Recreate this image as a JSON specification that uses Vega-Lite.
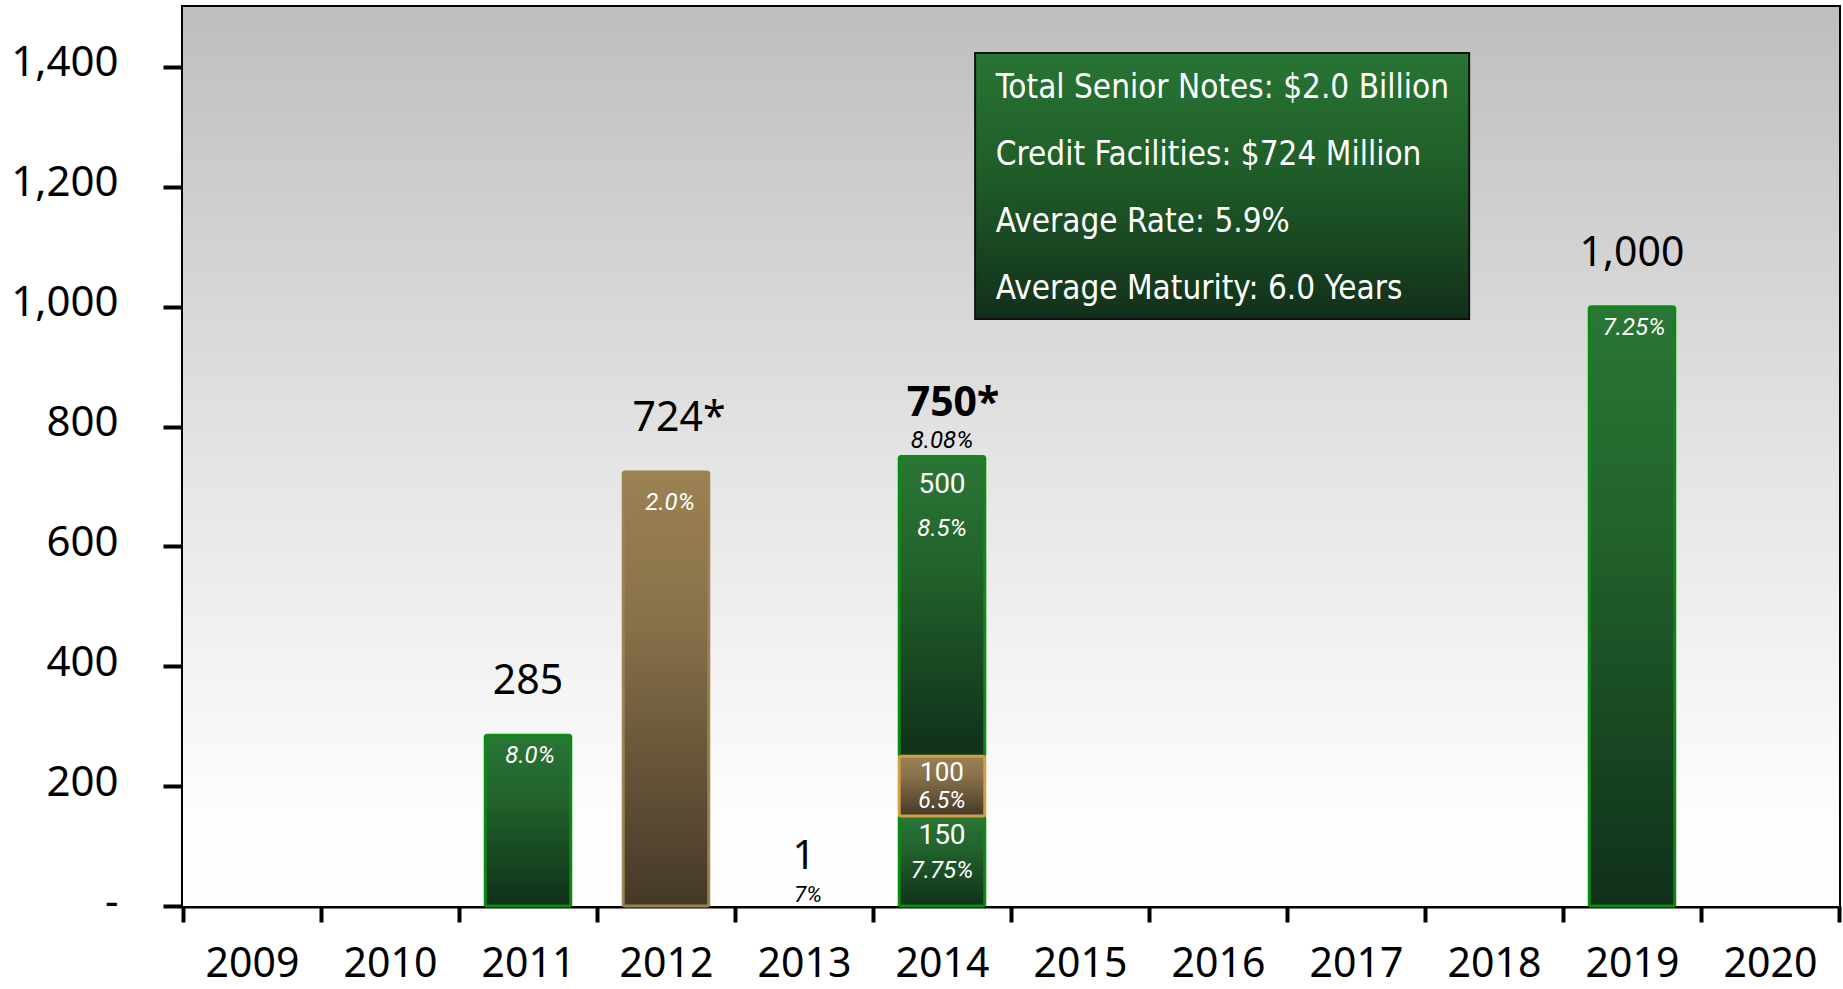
{
  "$schema": "https://vega.github.io/schema/vega-lite/v6.json",
  "width": 1656,
  "height": 899,
  "autosize": {"type": "none"},
  "padding": {"left": 183, "top": 7, "right": 4, "bottom": 83},
  "background": "white",
  "config": {
    "view": {"stroke": "black", "strokeWidth": 4},
    "axis": {
      "domainColor": "black", "domainWidth": 4, "tickColor": "black", "tickWidth": 4,
      "labelColor": "black", "labelFont": "Noto Sans", "grid": false
    }
  },
  "datasets": {
    "segments": [
      {"year": "2011", "tranche": 1, "type": "notes", "amount": 285, "rate": "8.0%"},
      {"year": "2012", "tranche": 1, "type": "credit", "amount": 724, "rate": "2.0%"},
      {"year": "2014", "tranche": 1, "type": "notes", "amount": 150, "rate": "7.75%"},
      {"year": "2014", "tranche": 2, "type": "credit", "amount": 100, "rate": "6.5%"},
      {"year": "2014", "tranche": 3, "type": "notes", "amount": 500, "rate": "8.5%"},
      {"year": "2019", "tranche": 1, "type": "notes", "amount": 1000, "rate": "7.25%"}
    ],
    "totals": [
      {"year": "2011", "total": 285, "label": "285", "avg": null},
      {"year": "2012", "total": 724, "label": "724*", "avg": null},
      {"year": "2013", "total": 1, "label": "1", "avg": "7%"},
      {"year": "2014", "total": 750, "label": "750*", "avg": "8.08%"},
      {"year": "2019", "total": 1000, "label": "1,000", "avg": null}
    ],
    "notes": [
      {"line": 1, "text": "Total Senior Notes: $2.0 Billion"},
      {"line": 2, "text": "Credit Facilities: $724 Million"},
      {"line": 3, "text": "Average Rate: 5.9%"},
      {"line": 4, "text": "Average Maturity: 6.0 Years"}
    ]
  },
  "layer": [
    {
      "layer": [
        {
          "data": {"values": [{}]},
          "mark": {"type": "rect", "fill": {"gradient": "linear", "x1": 0, "y1": 0, "x2": 0, "y2": 1,
            "stops": [{"offset": 0, "color": "#bebebe"}, {"offset": 0.5, "color": "#e4e4e4"}, {"offset": 0.9, "color": "#fdfdfd"}, {"offset": 1, "color": "#ffffff"}]}},
          "encoding": {
            "x": {"datum": 0, "type": "quantitative", "scale": {"domain": [0, 12], "nice": false, "zero": false}, "axis": null},
            "x2": {"datum": 12},
            "y": {"datum": -0.211, "type": "quantitative", "scale": {"domain": [-0.211, 13.207], "reverse": true, "nice": false, "zero": false}, "axis": null},
            "y2": {"datum": 13.207}
          }
        },
        {
          "data": {"values": [{}]},
          "mark": {"type": "rect", "stroke": "#111111", "strokeWidth": 2, "fill": {"gradient": "linear", "x1": 0, "y1": 0, "x2": 0, "y2": 1,
            "stops": [{"offset": 0, "color": "#287534"}, {"offset": 0.45, "color": "#1f5d28"}, {"offset": 1, "color": "#12301a"}]}},
          "encoding": {
            "x": {"datum": 5.74, "type": "quantitative", "scale": {"domain": [0, 12], "nice": false, "zero": false}, "axis": null},
            "x2": {"datum": 9.32},
            "y": {"datum": 0.476, "type": "quantitative", "scale": {"domain": [-0.211, 13.207], "reverse": true, "nice": false, "zero": false}, "axis": null},
            "y2": {"datum": 4.446}
          }
        },
        {
          "data": {"name": "notes"},
          "mark": {"type": "text", "align": "left", "baseline": "middle", "font": "DejaVu Sans Condensed, Roboto", "fontSize": 33, "color": "white"},
          "encoding": {
            "x": {"datum": 5.89, "type": "quantitative", "scale": {"domain": [0, 12], "nice": false, "zero": false}, "axis": null},
            "y": {"field": "line", "type": "quantitative", "scale": {"domain": [-0.211, 13.207], "reverse": true, "nice": false, "zero": false}, "axis": null},
            "text": {"field": "text"}
          }
        }
      ]
    },
    {
      "transform": [
        {"stack": "amount", "groupby": ["year"], "sort": [{"field": "tranche", "order": "ascending"}], "as": ["lo", "hi"]}
      ],
      "data": {"name": "segments"},
      "layer": [
        {
          "transform": [{"filter": "datum.type == 'notes'"}],
          "mark": {"type": "bar", "width": {"band": 0.62}, "stroke": "#0b8a12", "strokeWidth": 3, "cornerRadius": 2,
            "fill": {"gradient": "linear", "x1": 0, "y1": 0, "x2": 0, "y2": 1,
              "stops": [{"offset": 0, "color": "#2a7636"}, {"offset": 0.35, "color": "#22642c"}, {"offset": 1, "color": "#10301a"}]}},
          "encoding": {
            "x": {"field": "year", "type": "nominal", "title": null,
              "scale": {"domain": ["2009","2010","2011","2012","2013","2014","2015","2016","2017","2018","2019","2020"], "paddingInner": 0, "paddingOuter": 0},
              "axis": {"labelAngle": 0, "tickBand": "extent", "tickSize": 16, "labelPadding": 22, "labelFontSize": 41}},
            "y": {"field": "hi", "type": "quantitative", "title": null,
              "scale": {"domain": [0, 1500], "nice": false},
              "axis": {"values": [0, 200, 400, 600, 800, 1000, 1200, 1400], "tickSize": 20, "labelPadding": 45, "labelFontSize": 42, "labelOffset": -4,
                "labelExpr": "datum.value == 0 ? '-' : format(datum.value, ',')"}},
            "y2": {"field": "lo"}
          }
        },
        {
          "transform": [{"filter": "datum.type == 'credit'"}],
          "mark": {"type": "bar", "width": {"band": 0.62}, "strokeWidth": 3, "cornerRadius": 2,
            "fill": {"gradient": "linear", "x1": 0, "y1": 0, "x2": 0, "y2": 1,
              "stops": [{"offset": 0, "color": "#9b8253"}, {"offset": 0.35, "color": "#88704a"}, {"offset": 1, "color": "#443927"}]}},
          "encoding": {
            "x": {"field": "year", "type": "nominal", "title": null},
            "y": {"field": "hi", "type": "quantitative", "title": null},
            "y2": {"field": "lo"},
            "stroke": {"condition": {"test": "datum.year == '2014'", "value": "#d39c45"}, "value": "#9b8253"}
          }
        },
        {
          "transform": [{"filter": "datum.year == '2014' && datum.tranche == 3"}],
          "mark": {"type": "text", "baseline": "middle", "dy": 28, "font": "Roboto", "fontSize": 28, "color": "white"},
          "encoding": {
            "x": {"field": "year", "type": "nominal", "title": null},
            "y": {"field": "hi", "type": "quantitative", "title": null},
            "text": {"field": "amount", "type": "quantitative"}
          }
        },
        {
          "transform": [{"filter": "datum.year == '2014' && datum.tranche == 2"}],
          "mark": {"type": "text", "baseline": "middle", "dy": 17, "font": "Roboto", "fontSize": 26, "color": "white"},
          "encoding": {
            "x": {"field": "year", "type": "nominal", "title": null},
            "y": {"field": "hi", "type": "quantitative", "title": null},
            "text": {"field": "amount", "type": "quantitative"}
          }
        },
        {
          "transform": [{"filter": "datum.year == '2014' && datum.tranche == 1"}],
          "mark": {"type": "text", "baseline": "middle", "dy": 20, "font": "Roboto", "fontSize": 28, "color": "white"},
          "encoding": {
            "x": {"field": "year", "type": "nominal", "title": null},
            "y": {"field": "hi", "type": "quantitative", "title": null},
            "text": {"field": "amount", "type": "quantitative"}
          }
        },
        {
          "transform": [{"filter": "datum.year == '2014' && datum.tranche == 3"}],
          "mark": {"type": "text", "baseline": "middle", "dy": 72, "font": "Roboto", "fontSize": 24, "fontStyle": "italic", "color": "white"},
          "encoding": {
            "x": {"field": "year", "type": "nominal", "title": null},
            "y": {"field": "hi", "type": "quantitative", "title": null},
            "text": {"field": "rate"}
          }
        },
        {
          "transform": [{"filter": "datum.year == '2014' && datum.tranche == 2"}],
          "mark": {"type": "text", "baseline": "middle", "dy": 45, "font": "Roboto", "fontSize": 23, "fontStyle": "italic", "color": "white"},
          "encoding": {
            "x": {"field": "year", "type": "nominal", "title": null},
            "y": {"field": "hi", "type": "quantitative", "title": null},
            "text": {"field": "rate"}
          }
        },
        {
          "transform": [{"filter": "datum.year == '2014' && datum.tranche == 1"}],
          "mark": {"type": "text", "baseline": "middle", "dy": 55, "font": "Roboto", "fontSize": 24, "fontStyle": "italic", "color": "white"},
          "encoding": {
            "x": {"field": "year", "type": "nominal", "title": null},
            "y": {"field": "hi", "type": "quantitative", "title": null},
            "text": {"field": "rate"}
          }
        },
        {
          "transform": [{"filter": "datum.year == '2011' || datum.year == '2019'"}],
          "mark": {"type": "text", "baseline": "middle", "dy": 21, "dx": 2, "font": "Roboto", "fontSize": 24, "fontStyle": "italic", "color": "white"},
          "encoding": {
            "x": {"field": "year", "type": "nominal", "title": null},
            "y": {"field": "hi", "type": "quantitative", "title": null},
            "text": {"field": "rate"}
          }
        },
        {
          "transform": [{"filter": "datum.year == '2012'"}],
          "mark": {"type": "text", "baseline": "middle", "dy": 31, "dx": 4, "font": "Roboto", "fontSize": 24, "fontStyle": "italic", "color": "white"},
          "encoding": {
            "x": {"field": "year", "type": "nominal", "title": null},
            "y": {"field": "hi", "type": "quantitative", "title": null},
            "text": {"field": "rate"}
          }
        },
        {
          "data": {"name": "totals"},
          "transform": [{"filter": "datum.year == '2011' || datum.year == '2019'"}],
          "mark": {"type": "text", "baseline": "middle", "dy": -53, "font": "Noto Sans", "fontSize": 41, "color": "black"},
          "encoding": {
            "x": {"field": "year", "type": "nominal", "title": null},
            "y": {"field": "total", "type": "quantitative", "title": null},
            "text": {"field": "label"}
          }
        },
        {
          "data": {"name": "totals"},
          "transform": [{"filter": "datum.year == '2013'"}],
          "mark": {"type": "text", "baseline": "middle", "dy": -48, "font": "Noto Sans", "fontSize": 40, "color": "black"},
          "encoding": {
            "x": {"field": "year", "type": "nominal", "title": null},
            "y": {"field": "total", "type": "quantitative", "title": null},
            "text": {"field": "label"}
          }
        },
        {
          "data": {"name": "totals"},
          "transform": [{"filter": "datum.year == '2012'"}],
          "mark": {"type": "text", "baseline": "middle", "dy": -53, "dx": 13, "font": "Noto Sans", "fontSize": 41, "color": "black"},
          "encoding": {
            "x": {"field": "year", "type": "nominal", "title": null},
            "y": {"field": "total", "type": "quantitative", "title": null},
            "text": {"field": "label"}
          }
        },
        {
          "data": {"name": "totals"},
          "transform": [{"filter": "datum.year == '2014'"}],
          "mark": {"type": "text", "baseline": "middle", "dy": -53, "dx": 11, "font": "Noto Sans", "fontSize": 41, "fontWeight": "bold", "color": "black"},
          "encoding": {
            "x": {"field": "year", "type": "nominal", "title": null},
            "y": {"field": "total", "type": "quantitative", "title": null},
            "text": {"field": "label"}
          }
        },
        {
          "data": {"name": "totals"},
          "transform": [{"filter": "datum.year == '2014'"}],
          "mark": {"type": "text", "baseline": "middle", "dy": -16, "font": "Roboto", "fontSize": 24, "fontStyle": "italic", "color": "black"},
          "encoding": {
            "x": {"field": "year", "type": "nominal", "title": null},
            "y": {"field": "total", "type": "quantitative", "title": null},
            "text": {"field": "avg"}
          }
        },
        {
          "data": {"name": "totals"},
          "transform": [{"filter": "datum.year == '2013'"}],
          "mark": {"type": "text", "baseline": "middle", "dy": -10, "dx": 4, "font": "Roboto", "fontSize": 22, "fontStyle": "italic", "color": "black"},
          "encoding": {
            "x": {"field": "year", "type": "nominal", "title": null},
            "y": {"field": "total", "type": "quantitative", "title": null},
            "text": {"field": "avg"}
          }
        }
      ]
    }
  ],
  "resolve": {"scale": {"x": "independent", "y": "independent"}}
}
